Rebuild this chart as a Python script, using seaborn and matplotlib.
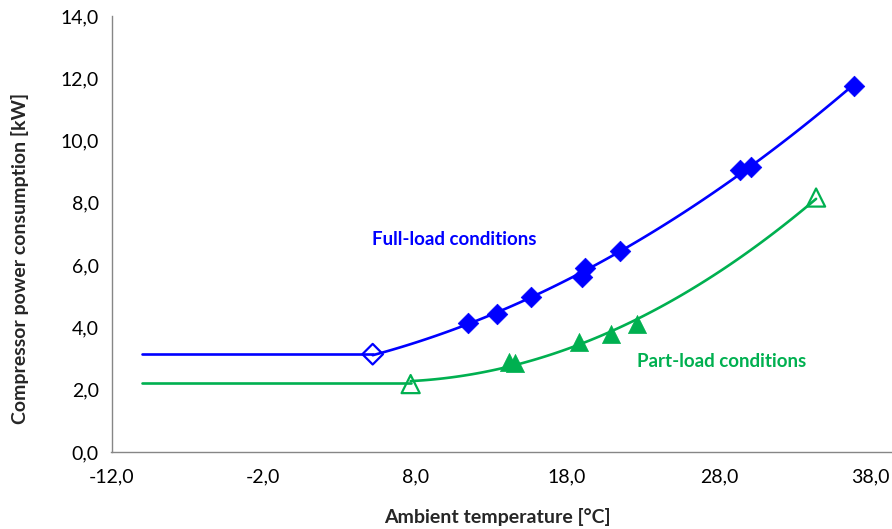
import numpy as np
import pandas as pd
import matplotlib
matplotlib.use("Agg")
import matplotlib.pyplot as plt
import seaborn as sns
from matplotlib.ticker import FuncFormatter, MultipleLocator

# values
full_x = [11.5, 13.4, 15.6, 19.0, 19.2, 21.5, 29.4, 30.1, 36.9]
full_y = [4.13, 4.42, 4.97, 5.63, 5.90, 6.46, 9.06, 9.16, 11.75]
full_open_x = [5.2]
full_open_y = [3.14]

part_x = [14.2, 14.6, 18.8, 20.9, 22.6]
part_y = [2.90, 2.85, 3.54, 3.78, 4.11]
part_open_x = [7.7, 34.4]
part_open_y = [2.18, 8.17]

flat_start = -10.0
full_flat_y = 3.14
part_flat_y = 2.20

blue = "#0000FF"
green = "#00B050"
axis_grey = "#868686"

sns.set_style("white")
plt.rcParams["font.family"] = ["Lato", "DejaVu Sans"]

fig = plt.figure(figsize=(8.92, 5.29), dpi=100)
ax = fig.add_axes([0.125, 0.1456, 0.875, 0.8242])

full_fit = pd.DataFrame({"x": full_open_x + full_x, "y": full_open_y + full_y})
part_fit = pd.DataFrame({"x": part_open_x + part_x, "y": part_open_y + part_y})

# constant segment below the switch point
sns.lineplot(x=[flat_start, full_open_x[0]], y=[full_flat_y, full_flat_y],
             color=blue, lw=1.9, ax=ax)
sns.lineplot(x=[flat_start, part_open_x[0]], y=[part_flat_y, part_flat_y],
             color=green, lw=1.9, ax=ax)

# polynomial trendlines
sns.regplot(data=full_fit, x="x", y="y", order=2, ci=None, scatter=False,
            truncate=True, color=blue, line_kws={"lw": 1.9}, ax=ax)
sns.regplot(data=part_fit, x="x", y="y", order=2, ci=None, scatter=False,
            truncate=True, color=green, line_kws={"lw": 1.9}, ax=ax)

# markers
sns.scatterplot(x=full_x, y=full_y, marker="D", s=110, color=blue,
                edgecolor=blue, linewidth=0.5, zorder=5, ax=ax)
sns.scatterplot(x=full_open_x, y=full_open_y, marker="D", s=110,
                facecolor="none", edgecolor=blue, linewidth=1.6, zorder=5, ax=ax)
sns.scatterplot(x=part_x, y=part_y, marker="^", s=170, color=green,
                edgecolor=green, linewidth=0.5, zorder=5, ax=ax)
sns.scatterplot(x=part_open_x, y=part_open_y, marker="^", s=170,
                facecolor="none", edgecolor=green, linewidth=1.6, zorder=5, ax=ax)

ax.text(10.56, 6.81, "Full-load conditions", color=blue, fontsize=13.5,
        fontweight="bold", ha="center", va="center")
ax.text(28.2, 2.92, "Part-load conditions", color=green, fontsize=13.5,
        fontweight="bold", ha="center", va="center")

ax.set_xlim(-12, 39.4)
ax.set_ylim(0, 14)
ax.yaxis.set_major_locator(MultipleLocator(2))
ax.set_xticks([-12, -2, 8, 18, 28, 38])
comma = FuncFormatter(lambda v, p: f"{v:.1f}".replace(".", ","))
ax.xaxis.set_major_formatter(comma)
ax.yaxis.set_major_formatter(comma)

for side in ["top", "right"]:
    ax.spines[side].set_visible(False)
for side in ["left", "bottom"]:
    ax.spines[side].set_color(axis_grey)
    ax.spines[side].set_linewidth(1.0)
ax.tick_params(axis="both", direction="out", length=5, width=1.0,
               color=axis_grey, labelsize=14, labelcolor="black", pad=4)
ax.tick_params(axis="x", pad=7)

ax.set_xlabel("Ambient temperature [°C]", fontsize=14, fontweight="bold",
              va="center")
ax.set_ylabel("Compressor power consumption [kW]", fontsize=14,
              fontweight="bold", va="center")
ax.xaxis.set_label_coords(0.494, -0.149)
ax.yaxis.set_label_coords(-0.117, 0.445)

fig.savefig("out.png", dpi=100)
